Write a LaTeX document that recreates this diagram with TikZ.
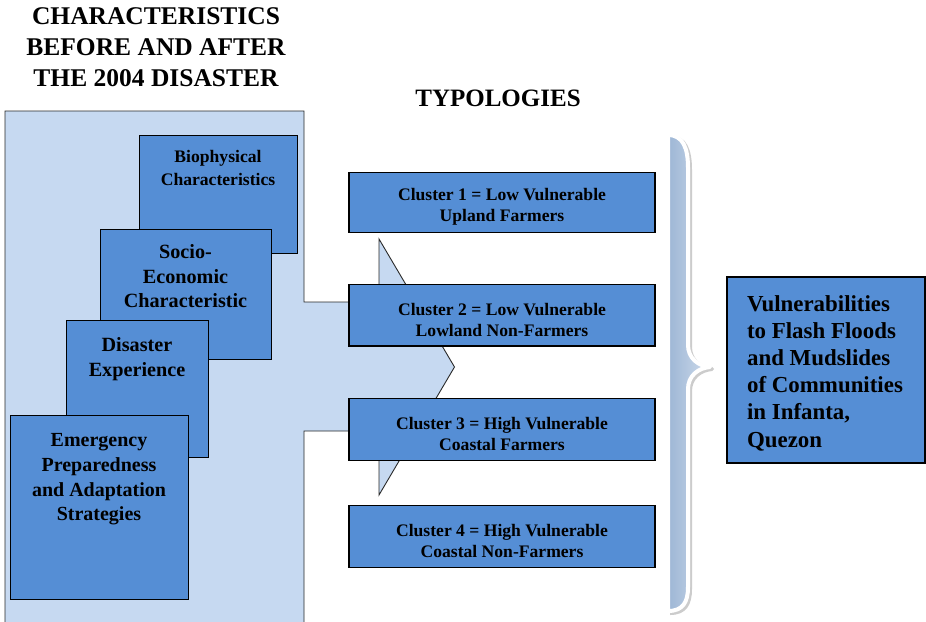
\documentclass[tikz,border=0pt]{standalone}
\usepackage{fontspec}
\setmainfont{Liberation Serif}
\definecolor{boxblue}{HTML}{558ED5}
\definecolor{panelblue}{HTML}{C6D9F1}
\definecolor{outline}{HTML}{2A2A2A}
\definecolor{braceL}{HTML}{9DB6D5}
\definecolor{braceR}{HTML}{CFDCEC}
\begin{document}
\begin{tikzpicture}[x=1pt,y=-1pt,
  bbox/.style={draw=black,line width=1.3pt,fill=boxblue,inner sep=0pt},
  lbox/.style={bbox,anchor=north west},
  ltext/.style={align=center,inner sep=0pt,anchor=north},
  cbox/.style={bbox,minimum width=306pt},
  ctext/.style={align=center,inner sep=0pt,font=\bfseries\fontsize{17.6}{21}\selectfont},
  title/.style={align=center,inner sep=0pt,anchor=north,font=\bfseries\fontsize{25.5}{31}\selectfont},
]
\useasboundingbox (0,0) rectangle (926,621);
\clip (0,0) rectangle (926,621);
\fill[white] (0,0) rectangle (926,621);

% titles
\node[title] (ttl) at (156,7) {CHARACTERISTICS\\BEFORE AND AFTER\\THE 2004 DISASTER};
\node[title,font=\bfseries\fontsize{25}{30}\selectfont] (typ) at (498,90) {TYPOLOGIES};

% big arrow panel
\draw[fill=panelblue,draw=outline,line width=0.9pt]
  (5,111) -- (304,111) -- (304,302) -- (379,302) -- (379,239) -- (454.5,367)
  -- (379,495) -- (379,431) -- (304,431) -- (304,640) -- (5,640) -- cycle;

% left stacked boxes
\node[lbox,minimum width=158pt,minimum height=118pt] (bio) at (139,135) {};
\node[ltext,font=\bfseries\fontsize{17.6}{22.5}\selectfont] (biot) at (218,150.5) {Biophysical\\Characteristics};
\node[lbox,minimum width=171pt,minimum height=130pt] (soc) at (100,229) {};
\node[ltext,font=\bfseries\fontsize{20.2}{24.5}\selectfont] (soct) at (185.5,244.5) {Socio-\\Economic\\Characteristic};
\node[lbox,minimum width=142pt,minimum height=137pt] (dis) at (66,320) {};
\node[ltext,font=\bfseries\fontsize{20.2}{24.6}\selectfont] (dist) at (137,337.5) {Disaster\\Experience};
\node[lbox,minimum width=178pt,minimum height=184pt] (emr) at (10,415) {};
\node[ltext,font=\bfseries\fontsize{20}{24.6}\selectfont] (emrt) at (99,433.5) {Emergency\\Preparedness\\and Adaptation\\Strategies};

% clusters
\node[cbox,minimum height=59.6pt] (c1) at (502,202.5) {};
\node[ctext] (c1t) at (502,207) {Cluster 1 = Low Vulnerable\\Upland Farmers};
\node[cbox,minimum height=61.3pt] (c2) at (502,315.3) {};
\node[ctext] (c2t) at (502,319.5) {Cluster 2 = Low Vulnerable\\Lowland Non-Farmers};
\node[cbox,minimum height=62pt] (c3) at (502,429.7) {};
\node[ctext] (c3t) at (502,433.7) {Cluster 3 = High Vulnerable\\Coastal Farmers};
\node[cbox,minimum height=62.4pt] (c4) at (502,536.5) {};
\node[ctext] (c4t) at (502,540.8) {Cluster 4 = High Vulnerable\\Coastal Non-Farmers};

% brace
\begin{scope}[shift={(2,2)}]
\draw[gray!40,line width=4pt,line join=round]
  (668,135) .. controls (683,135) and (688,148) .. (688,168) -- (688,345)
  .. controls (688,358) and (698,366) .. (710,367)
  .. controls (698,368) and (688,376) .. (688,389) -- (688,587)
  .. controls (688,602) and (683,611) .. (668,611);
\end{scope}
\path[left color=braceL,right color=braceR,draw=white,line width=4pt,line join=round]
  (668,135) .. controls (683,135) and (688,148) .. (688,168) -- (688,345)
  .. controls (688,358) and (698,366) .. (710,367)
  .. controls (698,368) and (688,376) .. (688,389) -- (688,587)
  .. controls (688,602) and (683,611) .. (668,611) -- cycle;

% result box
\node[bbox,minimum width=198pt,minimum height=186pt,align=left,
  font=\bfseries\fontsize{22.9}{27.2}\selectfont] (vul) at (826,370) {};
\node[align=left,inner sep=0pt,font=\bfseries\fontsize{22.9}{27.2}\selectfont] (vult) at (825,373)
  {Vulnerabilities\\to Flash Floods\\and Mudslides\\of Communities\\in Infanta,\\Quezon};
\end{tikzpicture}
\end{document}
